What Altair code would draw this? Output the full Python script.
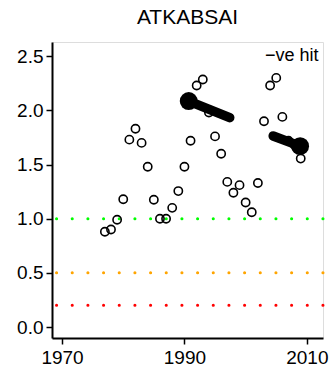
import altair as alt
import pandas as pd

years = list(range(1977, 2010))
values = [0.88, 0.90, 0.99, 1.18, 1.73, 1.83, 1.70, 1.48, 1.175, 1.00,
          1.00, 1.10, 1.255, 1.48, 1.72, 2.23, 2.285, 1.98, 1.76, 1.60,
          1.34, 1.24, 1.31, 1.15, 1.06, 1.33, 1.90, 2.23, 2.30, 1.94,
          1.72, 1.68, 1.555]

trend_seg = ["a", "a", "b", "b"]
trend_x = [1990.7, 1997.4, 2004.5, 2008.9]
trend_y = [2.086, 1.933, 1.764, 1.67]

blob_x = [1990.7, 2008.9]
blob_y = [2.086, 1.67]

ref_levels = [1.0, 0.5, 0.2]
ref_colors = ["#00FF00", "#FFA500", "#FF0000"]

x_domain = [1968.36, 2012.64]
y_domain = [-0.1012, 2.6312]
x_ticks = [1970, 1990, 2010]
y_ticks = [0.0, 0.5, 1.0, 1.5, 2.0, 2.5]

title_text = ["ATKABSAI"]

FONT = "Liberation Sans"

pts = pd.DataFrame({"year": years, "value": values})
trend = pd.DataFrame({"seg": trend_seg, "year": trend_x, "value": trend_y})
blobs = pd.DataFrame({"year": blob_x, "value": blob_y})
refs = pd.DataFrame({"level": ref_levels, "color": ref_colors})
note = pd.DataFrame({"year": [2011.9], "value": [2.5], "label": ["\u2212ve hit"]})
ttl = pd.DataFrame({"label": title_text})

xs = alt.Scale(domain=x_domain, nice=False, zero=False)
ys = alt.Scale(domain=y_domain, nice=False, zero=False)

xaxis = alt.Axis(values=x_ticks, format="d", grid=False, title=None,
                 labelFont=FONT, labelFontSize=19, labelColor="black",
                 tickColor="black", tickSize=6, tickWidth=1.5,
                 domainColor="black", domainWidth=2, labelPadding=4,
                 labelFlush=False, labelOverlap=False)
yaxis = alt.Axis(values=y_ticks, format=".1f", grid=False, title=None,
                 labelFont=FONT, labelFontSize=19, labelColor="black",
                 tickColor="black", tickSize=6, tickWidth=1.5,
                 domainColor="black", domainWidth=2, labelPadding=3,
                 labelFlush=False, labelOverlap=False)

rules = alt.Chart(refs).mark_rule(strokeWidth=3, strokeCap="round",
                                  strokeDash=[0.1, 15.57]).encode(
    y=alt.Y("level:Q", scale=ys, axis=yaxis),
    color=alt.Color("color:N", scale=None),
)

circles = alt.Chart(pts).mark_point(shape="circle", filled=False, size=68,
                                    strokeWidth=1.6, color="black", opacity=1).encode(
    x=alt.X("year:Q", scale=xs, axis=xaxis),
    y=alt.Y("value:Q", scale=ys, axis=yaxis),
)

lines = alt.Chart(trend).mark_line(color="black", strokeWidth=9.5,
                                   strokeCap="round").encode(
    x=alt.X("year:Q", scale=xs),
    y=alt.Y("value:Q", scale=ys),
    detail="seg:N",
)

blob = alt.Chart(blobs).mark_circle(color="black", size=320, opacity=1).encode(
    x=alt.X("year:Q", scale=xs),
    y=alt.Y("value:Q", scale=ys),
)

text = alt.Chart(note).mark_text(align="right", baseline="middle", font=FONT,
                                 fontSize=18, color="black").encode(
    x=alt.X("year:Q", scale=xs),
    y=alt.Y("value:Q", scale=ys),
    text="label:N",
)

title = alt.Chart(ttl).mark_text(align="center", baseline="alphabetic", font=FONT,
                                 fontSize=21, color="black").encode(
    x=alt.value(135.5),
    y=alt.value(-18.5),
    text="label:N",
)

chart = alt.layer(rules, circles, lines, blob, text, title).properties(
    width=271, height=296,
    autosize=alt.AutoSizeParams(type="none"),
    padding={"left": 52, "top": 42, "right": 7, "bottom": 36},
).configure_view(stroke="black", strokeWidth=2).configure(background="white")

chart.save("out.html", embed_options={"renderer": "svg", "actions": False})
